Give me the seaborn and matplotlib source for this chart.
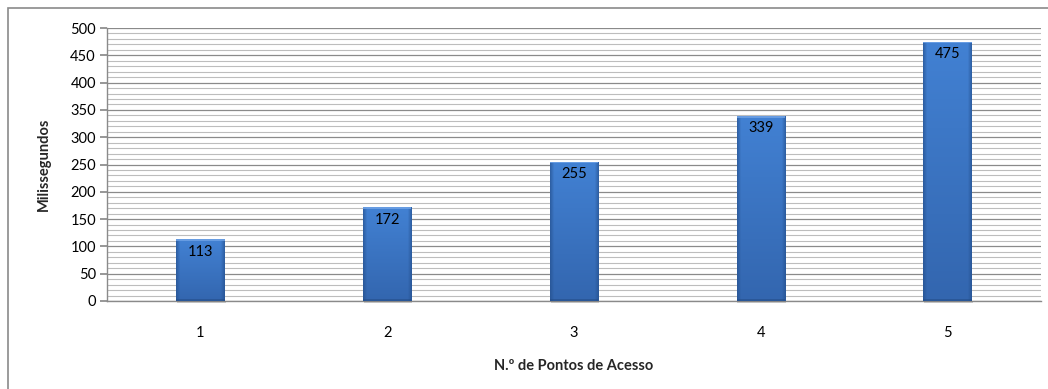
import numpy as np
import pandas as pd
import matplotlib
matplotlib.use("Agg")
import matplotlib.pyplot as plt
import seaborn as sns
from matplotlib.patches import Rectangle
from matplotlib.ticker import MultipleLocator

# Data
access_points = ["1", "2", "3", "4", "5"]
latency_ms = [113, 172, 255, 339, 475]

df = pd.DataFrame({"ap": access_points, "ms": latency_ms})

sns.set_theme(style="white")
plt.rcParams["font.family"] = ["Lato", "DejaVu Sans"]

fig = plt.figure(figsize=(10.48, 3.89), dpi=100)
ax = fig.add_axes([107 / 1048, 1 - 301 / 389, (1041 - 107) / 1048, (301 - 28) / 389])

sns.barplot(data=df, x="ap", y="ms", ax=ax, color="#3c76c4", width=0.26,
            saturation=1, zorder=3, edgecolor="none")

ax.set_ylim(0, 500)
ax.set_xlim(-0.5, len(access_points) - 0.5)
ax.yaxis.set_major_locator(MultipleLocator(50))
ax.yaxis.set_minor_locator(MultipleLocator(10))
ax.grid(which="major", axis="y", color="#8a8a8a", linewidth=0.9, zorder=0)
ax.grid(which="minor", axis="y", color="#bdbdbd", linewidth=0.8, zorder=0)
ax.set_axisbelow(True)

for s in ["top", "right"]:
    ax.spines[s].set_visible(False)
for s in ["left", "bottom"]:
    ax.spines[s].set_color("#8a8a8a")
    ax.spines[s].set_linewidth(1.0)

ax.tick_params(axis="y", which="major", left=True, length=5, color="#8a8a8a",
               labelsize=10.5, pad=3, labelcolor="#000000")
ax.tick_params(axis="y", which="minor", left=False)
ax.tick_params(axis="x", bottom=False, labelsize=10.5, pad=12, labelcolor="#000000")

ax.set_xlabel("N.º de Pontos de Acesso", fontsize=10.5, fontweight="bold", labelpad=14)
ax.set_ylabel("Milissegundos", fontsize=10.5, fontweight="bold", labelpad=14)

# Shaded, bevelled look on each bar: darker side edges, slight top-to-bottom darkening
nx, ny = 64, 128
u = np.linspace(0, 1, nx)
edge = np.clip(np.minimum(u, 1 - u) / 0.08, 0, 1)          # 0 at sides, 1 inside
vy = np.linspace(0, 1, ny)[:, None]                          # 0 bottom, 1 top
top_rgb = np.array([0x42, 0x81, 0xd3]) / 255
bot_rgb = np.array([0x33, 0x66, 0xaf]) / 255
side_rgb = np.array([0x24, 0x4f, 0x8c]) / 255
for patch, v in zip(ax.patches, latency_ms):
    x0 = patch.get_x()
    w = patch.get_width()
    h = patch.get_height()
    base = bot_rgb + (top_rgb - bot_rgb) * vy[..., None]     # (ny,1,3)
    e = edge[None, :, None]
    rgb = side_rgb + (base - side_rgb) * (0.35 + 0.65 * e)
    rgb = rgb[::-1]                                          # image row 0 is top
    # drop shadow under bar
    ax.add_patch(Rectangle((x0 + 0.005, -3), w, 3, facecolor="#7a7a7a",
                           edgecolor="none", alpha=0.35, zorder=2.9, clip_on=False))
    im = ax.imshow(rgb, extent=[x0, x0 + w, 0, h], aspect="auto",
                   zorder=3.5, interpolation="bilinear")
    im.set_clip_path(patch)
    # top bevel highlight
    ax.add_patch(Rectangle((x0, h - 3), w, 3, facecolor="#6ea2e6", edgecolor="none",
                           alpha=0.85, zorder=3.6))
    # bottom darker bevel
    ax.add_patch(Rectangle((x0, 0), w, 4, facecolor="#234c86", edgecolor="none",
                           alpha=0.55, zorder=3.6))
    ax.annotate(str(v), (x0 + w / 2, h), xytext=(0, -4), textcoords="offset points",
                ha="center", va="top", fontsize=10.5, color="#000000", zorder=5)

ax.set_xlim(-0.5, len(access_points) - 0.5)

# Outer chart border
fig.patches.append(Rectangle((8 / 1048, -0.1), 1.2, 1 - 8 / 389 + 0.1,
                             transform=fig.transFigure, fill=False,
                             edgecolor="#8a8a8a", linewidth=1.2))

fig.savefig("out.png", dpi=100)
